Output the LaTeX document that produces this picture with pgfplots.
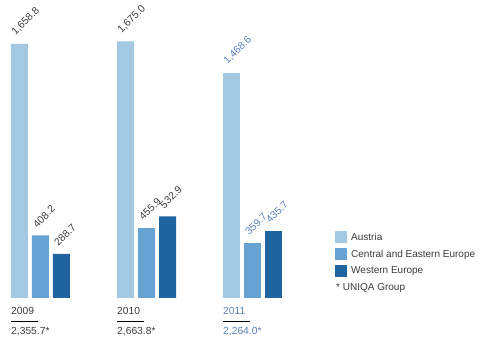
\documentclass[border=0pt]{standalone}
\usepackage{pgfplots}
\pgfplotsset{compat=1.18}
\usepackage{fontspec}
\setmainfont{Liberation Sans}
\definecolor{cA}{HTML}{A2C8E2}
\definecolor{cC}{HTML}{66A3D3}
\definecolor{cW}{HTML}{1F63A0}
\definecolor{tG}{HTML}{3A3A3A}
\definecolor{tB}{HTML}{5A7FBA}
\begin{document}
\begin{tikzpicture}[font=\fontsize{10.3bp}{12bp}\selectfont]
\path[use as bounding box] (0,0) rectangle (480bp,343bp);
\begin{axis}[at={(0bp,45bp)}, anchor=south west, scale only axis,
  width=300bp, height=298bp, hide axis, clip=false,
  xmin=-0.382, xmax=2.448, ymin=0, ymax=1946,
  ybar, bar width=17bp,
  /pgf/number format/assume math mode=true,
  nodes near coords={\pgfmathprintnumber[fixed,fixed zerofill,precision=1,1000 sep={,},assume math mode=true]{\pgfplotspointmeta}},
  every node near coord/.append style={anchor=south west, inner sep=0pt, xshift=-3bp, yshift=7bp, rotate=45, text=tG, font=\fontsize{10.3bp}{12bp}\selectfont},
  legend image code/.code={\fill[#1] (0bp,-6bp) rectangle (12bp,6bp);},
  legend style={at={(1.1167,0.2248)}, anchor=north west, draw=none, fill=none,
    inner sep=0pt, row sep=5bp,
    /tikz/every odd column/.append style={column sep=4bp},
    nodes={inner sep=0pt, anchor=west},
    font=\fontsize{10bp}{12bp}\selectfont, text=tG},
  legend cell align=left,
]
\addplot[fill=cA, draw=none, bar shift=-21bp] coordinates {(0,1658.8) (1,1675.0)};
\addplot[fill=cC, draw=none, bar shift=0bp] coordinates {(0,408.2) (1,455.9)};
\addplot[fill=cW, draw=none, bar shift=21bp] coordinates {(0,288.7) (1,532.9)};
\addplot[fill=cA, draw=none, bar shift=-21bp, forget plot, every node near coord/.append style={text=tB}] coordinates {(2,1468.6)};
\addplot[fill=cC, draw=none, bar shift=0bp, forget plot, every node near coord/.append style={text=tB}] coordinates {(2,359.7)};
\addplot[fill=cW, draw=none, bar shift=21bp, forget plot, every node near coord/.append style={text=tB}] coordinates {(2,435.7)};
\legend{Austria, Central and Eastern Europe, Western Europe}
\end{axis}
\node[anchor=base west, inner sep=0pt, text=tG] at (11bp,28.7bp) {2009};
\node[anchor=base west, inner sep=0pt, text=tG] at (117bp,28.7bp) {2010};
\node[anchor=base west, inner sep=0pt, text=tB] at (223bp,28.7bp) {2011};
\draw[black, line width=0.8bp] (11bp,21.5bp) -- (38bp,21.5bp);
\draw[black, line width=0.8bp] (117bp,21.5bp) -- (144bp,21.5bp);
\draw[black, line width=0.8bp] (223bp,21.5bp) -- (250bp,21.5bp);
\node[anchor=base west, inner sep=0pt, text=tG] at (11bp,8.7bp) {2,355.7*};
\node[anchor=base west, inner sep=0pt, text=tG] at (117bp,8.7bp) {2,663.8*};
\node[anchor=base west, inner sep=0pt, text=tB] at (223bp,8.7bp) {2,264.0*};
\node[anchor=base west, inner sep=0pt, text=tG, font=\fontsize{10bp}{12bp}\selectfont] at (336bp,52.7bp) {* UNIQA Group};
\end{tikzpicture}
\end{document}
